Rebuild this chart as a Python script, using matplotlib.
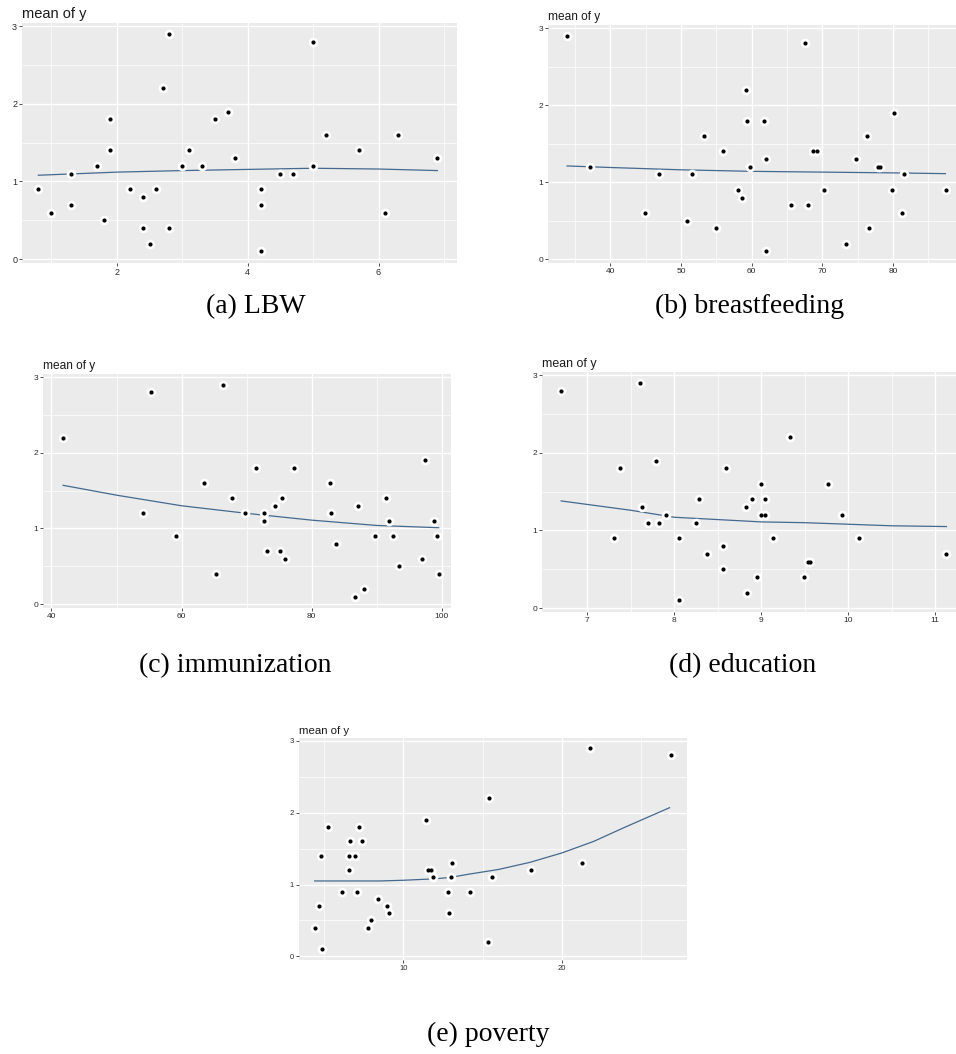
import matplotlib
matplotlib.use("Agg")
import matplotlib.pyplot as plt
import numpy as np

# data: mean of y against each covariate
y_lbw = [0.9, 0.6, 1.1, 0.7, 1.2, 0.5, 1.8, 1.4, 0.9, 0.8, 0.4, 0.2, 0.9, 2.2, 2.9, 0.4, 1.2,
         1.4, 1.2, 1.8, 1.9, 1.3, 0.9, 0.7, 0.1, 1.1, 1.1, 2.8, 1.2, 1.6, 1.4, 0.6, 1.6, 1.3]
x_lbw = [0.8, 1.0, 1.3, 1.3, 1.7, 1.8, 1.9, 1.9, 2.2, 2.4, 2.4, 2.5, 2.6, 2.7, 2.8, 2.8, 3.0,
         3.1, 3.3, 3.5, 3.7, 3.8, 4.2, 4.2, 4.2, 4.5, 4.7, 5.0, 5.0, 5.2, 5.7, 6.1, 6.3, 6.9]
fit_x_lbw = [0.8, 2.0, 3.0, 4.0, 5.0, 6.0, 6.9]
fit_y_lbw = [1.08, 1.12, 1.14, 1.155, 1.17, 1.16, 1.14]

x_bf = [33.9, 37.1, 44.9, 46.9, 50.9, 51.6, 53.3, 55.0, 56.0, 58.0, 58.6, 59.2, 59.4, 59.7,
        61.7, 62.0, 62.0, 65.6, 67.6, 68.0, 68.7, 69.2, 70.2, 73.4, 74.7, 76.3, 76.6, 77.8,
        78.1, 79.8, 80.2, 81.3, 81.6, 87.5]
y_bf = [2.9, 1.2, 0.6, 1.1, 0.5, 1.1, 1.6, 0.4, 1.4, 0.9, 0.8, 2.2, 1.8, 1.2, 1.8, 1.3, 0.1,
        0.7, 2.8, 0.7, 1.4, 1.4, 0.9, 0.2, 1.3, 1.6, 0.4, 1.2, 1.2, 0.9, 1.9, 0.6, 1.1, 0.9]
fit_x_bf = [33.9, 40, 50, 60, 70, 80, 87.4]
fit_y_bf = [1.21, 1.19, 1.16, 1.14, 1.13, 1.12, 1.11]

x_imm = [41.8, 54.1, 55.3, 59.1, 63.4, 65.3, 66.4, 67.8, 69.8, 71.5, 72.7, 72.6, 73.2, 74.4,
         75.1, 75.5, 75.9, 77.2, 82.8, 83.0, 83.8, 86.6, 87.1, 88.1, 89.7, 91.4, 91.8, 92.5,
         93.4, 96.9, 97.4, 98.8, 99.2, 99.5]
y_imm = [2.2, 1.2, 2.8, 0.9, 1.6, 0.4, 2.9, 1.4, 1.2, 1.8, 1.2, 1.1, 0.7, 1.3, 0.7, 1.4, 0.6,
         1.8, 1.6, 1.2, 0.8, 0.1, 1.3, 0.2, 0.9, 1.4, 1.1, 0.9, 0.5, 0.6, 1.9, 1.1, 0.9, 0.4]
fit_x_imm = [41.8, 50, 60, 70, 80, 90, 99.5]
fit_y_imm = [1.57, 1.44, 1.30, 1.20, 1.11, 1.04, 1.01]

x_edu = [6.70, 7.31, 7.38, 7.61, 7.63, 7.70, 7.79, 7.82, 7.90, 8.05, 8.06, 8.25, 8.29, 8.38,
         8.56, 8.56, 8.60, 8.83, 8.84, 8.90, 8.95, 9.00, 9.00, 9.04, 9.04, 9.14, 9.33, 9.49,
         9.54, 9.56, 9.77, 9.93, 10.12, 11.13]
y_edu = [2.8, 0.9, 1.8, 2.9, 1.3, 1.1, 1.9, 1.1, 1.2, 0.9, 0.1, 1.1, 1.4, 0.7, 0.8, 0.5, 1.8,
         1.3, 0.2, 1.4, 0.4, 1.6, 1.2, 1.4, 1.2, 0.9, 2.2, 0.4, 0.6, 0.6, 1.6, 1.2, 0.9, 0.7]
fit_x_edu = [6.7, 7.5, 8.0, 8.5, 9.0, 9.5, 10.0, 10.5, 11.13]
fit_y_edu = [1.38, 1.26, 1.17, 1.14, 1.11, 1.10, 1.08, 1.06, 1.05]

x_pov = [4.42, 4.67, 4.78, 4.86, 5.26, 6.13, 6.55, 6.59, 6.63, 6.95, 7.05, 7.22, 7.39, 7.77,
         7.96, 8.40, 8.97, 9.12, 11.45, 11.56, 11.73, 11.85, 12.80, 12.86, 12.99, 13.07,
         14.23, 15.33, 15.43, 15.62, 18.04, 21.28, 21.77, 26.86]
y_pov = [0.4, 0.7, 1.4, 0.1, 1.8, 0.9, 1.2, 1.4, 1.6, 1.4, 0.9, 1.8, 1.6, 0.4, 0.5, 0.8, 0.7,
         0.6, 1.9, 1.2, 1.2, 1.1, 0.9, 0.6, 1.1, 1.3, 0.9, 0.2, 2.2, 1.1, 1.2, 1.3, 2.9, 2.8]
fit_x_pov = [4.4, 8.5, 10, 11, 12, 13, 14, 16, 18, 20, 22, 24, 26.8]
fit_y_pov = [1.05, 1.05, 1.06, 1.07, 1.08, 1.10, 1.14, 1.21, 1.31, 1.44, 1.60, 1.80, 2.07]

captions = ["(a) LBW", "(b) breastfeeding", "(c) immunization", "(d) education", "(e) poverty"]

W, H = 956, 1054
fig = plt.figure(figsize=(W / 100, H / 100), dpi=100)


def add_panel(px, x, y, fx, fy, xlim, xticks, xminor, title_size, tick_size):
    # px = (left, top, right, bottom) in pixels of the picture
    l, t, r, b = px
    ax = fig.add_axes([l / W, 1 - b / H, (r - l) / W, (b - t) / H])
    ax.set_facecolor("#EBEBEB")
    for s in ax.spines.values():
        s.set_visible(False)
    ax.set_xlim(xlim)
    ax.set_ylim(-0.05, 3.04)
    ax.set_xticks(xticks)
    ax.set_xticks(xminor, minor=True)
    ax.set_yticks([0, 1, 2, 3])
    ax.set_yticks([0.5, 1.5, 2.5], minor=True)
    ax.grid(which="major", color="white", lw=1.0)
    ax.grid(which="minor", color="white", lw=0.5)
    ax.set_axisbelow(True)
    ax.tick_params(which="major", length=2, width=0.6, color="#333333",
                   labelsize=tick_size, labelcolor="#2b2b2b", pad=1.5)
    ax.tick_params(which="minor", length=0)
    for lab in ax.get_xticklabels() + ax.get_yticklabels():
        lab.set_family("Liberation Sans")
    ax.plot(fx, fy, color="#44698F", lw=0.9, zorder=2)
    ax.scatter(x, y, s=48, color="white", lw=0, zorder=3)
    ax.scatter(x, y, s=9, color="black", lw=0, zorder=4)
    ax.text(0, 1.01, "mean of y", transform=ax.transAxes, ha="left", va="bottom",
            fontsize=title_size, family="Liberation Sans", color="#1a1a1a")
    return ax


add_panel((22, 23, 457, 263), x_lbw, y_lbw, fit_x_lbw, fit_y_lbw, (0.55, 7.2),
          [2, 4, 6], [1, 3, 5, 7], 10.5, 6.5)
add_panel((548, 25, 956, 263), x_bf, y_bf, fit_x_bf, fit_y_bf, (31.2, 88.9),
          [40, 50, 60, 70, 80], [35, 45, 55, 65, 75, 85], 8.6, 6)
add_panel((43, 374, 451, 608), x_imm, y_imm, fit_x_imm, fit_y_imm, (38.7, 101.4),
          [40, 60, 80, 100], [50, 70, 90], 8.6, 6)
add_panel((542, 372, 956, 612), x_edu, y_edu, fit_x_edu, fit_y_edu, (6.48, 11.24),
          [7, 8, 9, 10, 11], [7.5, 8.5, 9.5, 10.5], 8.9, 6)
add_panel((299, 738, 687, 960), x_pov, y_pov, fit_x_pov, fit_y_pov, (3.41, 27.9),
          [10, 20], [5, 15, 25], 8.2, 5.5)

# sub-figure captions
cap_pos = [(256, 313), (750, 313), (235, 672), (743, 672), (488, 1041)]
for (cx, cy), txt in zip(cap_pos, captions):
    fig.text(cx / W, 1 - cy / H, txt, ha="center", va="baseline",
             fontsize=20, family="Liberation Serif", color="black")

fig.savefig("out.png", dpi=100)
